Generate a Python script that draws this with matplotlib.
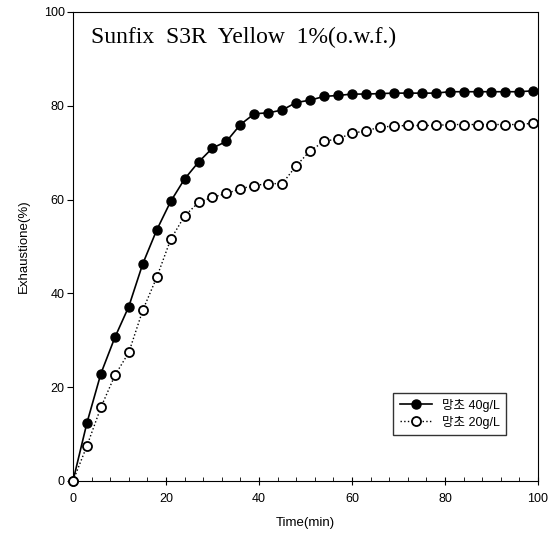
import numpy as np
import matplotlib.pyplot as plt
from matplotlib.ticker import MultipleLocator

plt.rcParams['font.family'] = ['Liberation Sans', 'Noto Sans CJK KR', 'DejaVu Sans']

time = np.arange(0, 100, 3)
salt_40 = [0, 12.4, 22.9, 30.6, 37.2, 46.3, 53.5, 59.6, 64.4, 68.0, 71.0, 72.4,
           76.0, 78.3, 78.5, 79.1, 80.7, 81.2, 82.0, 82.2, 82.5, 82.5, 82.6, 82.7,
           82.7, 82.7, 82.7, 83.0, 83.0, 83.0, 83.0, 83.0, 83.0, 83.2]
salt_20 = [0, 7.5, 15.7, 22.5, 27.4, 36.4, 43.4, 51.5, 56.5, 59.4, 60.5, 61.3,
           62.3, 63.0, 63.4, 63.4, 67.2, 70.4, 72.4, 73.0, 74.1, 74.7, 75.4, 75.7,
           75.8, 75.8, 75.8, 76.0, 76.0, 76.0, 76.0, 76.0, 76.0, 76.3]
labels = ['망초 40g/L', '망초 20g/L']

fig = plt.figure(figsize=(5.56, 5.33), dpi=100)
ax = fig.add_axes([0.1313, 0.0976, 0.8363, 0.8799])

ax.plot(time, salt_40, '-o', color='black', lw=1.2, ms=6.5,
        mfc='black', mec='black', label=labels[0], clip_on=False, zorder=3)
ax.plot(time, salt_20, ':o', color='black', lw=1.0, ms=6.5,
        mfc='white', mec='black', mew=1.3, label=labels[1], clip_on=False, zorder=3)

ax.set_xlim(0, 100)
ax.set_ylim(0, 100)
ax.xaxis.set_major_locator(MultipleLocator(20))
ax.xaxis.set_minor_locator(MultipleLocator(4))
ax.yaxis.set_major_locator(MultipleLocator(20))
ax.tick_params(axis='x', which='major', direction='inout', length=6, labelsize=9, pad=6)
ax.tick_params(axis='x', which='minor', direction='in', length=3)
ax.tick_params(axis='y', which='major', direction='out', length=4, labelsize=9, pad=2)

ax.set_xlabel('Time(min)', fontsize=9.5, labelpad=8)
ax.set_ylabel('Exhaustione(%)', fontsize=9.5, labelpad=10)

ax.text(0.038, 0.945, 'Sunfix  S3R  Yellow  1%(o.w.f.)', transform=ax.transAxes,
        fontsize=17, family='Liberation Serif', va='center', ha='left')

leg = ax.legend(loc='lower right', bbox_to_anchor=(0.945, 0.085), fontsize=9,
                frameon=True, fancybox=False, edgecolor='black',
                handlelength=2.6, borderpad=0.5, labelspacing=0.3)
leg.get_frame().set_linewidth(1.0)

fig.savefig('out.png', dpi=100)
